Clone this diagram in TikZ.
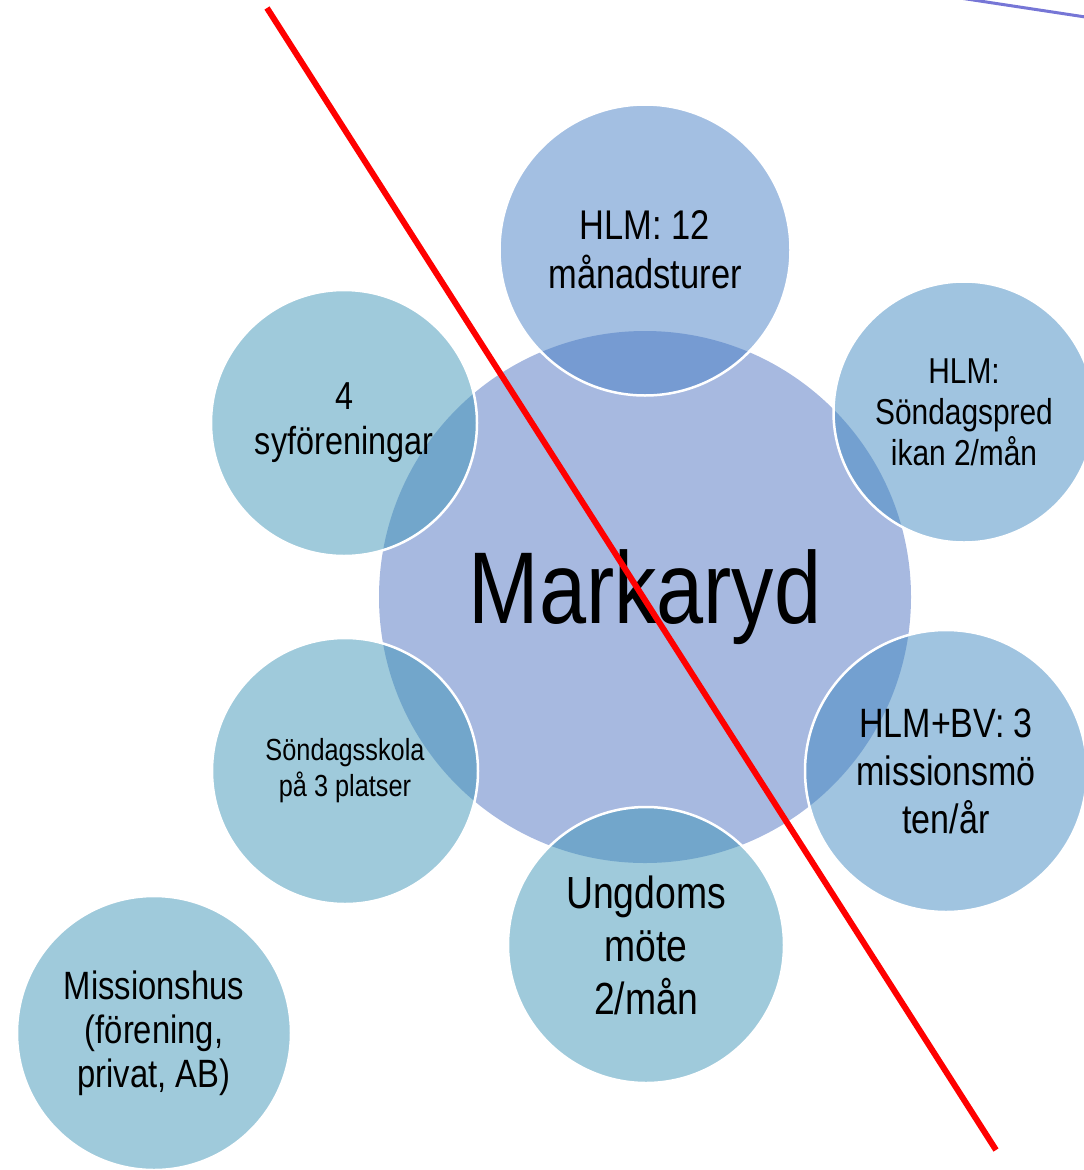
\documentclass[tikz,border=0pt]{standalone}
\usepackage{fontspec}
\setmainfont[FakeStretch=0.83]{Liberation Sans}
\definecolor{mainfill}{RGB}{167,185,224}
\definecolor{topblue}{RGB}{71,127,197}
\definecolor{sideblue}{RGB}{65,137,193}
\definecolor{tealblue}{RGB}{63,149,183}
\definecolor{crossred}{RGB}{255,0,0}
\definecolor{edgeblue}{RGB}{118,118,214}

\begin{document}
\begin{tikzpicture}[x=1pt, y=-1pt,
    bubble/.style={circle, inner sep=0pt, draw=white, line width=2.5pt,
      fill opacity=0.5, text opacity=1, align=center},
    fs/.style 2 args={font=\fontsize{#1}{#2}\selectfont}]
            \useasboundingbox (0,0) rectangle (1084,1170);
            \clip (0,0) rectangle (1084,1170);

            \node[circle, inner sep=0pt, fill=mainfill, minimum size=532pt, fs={102}{110}] (mark) at (645,597) {Markaryd};

            \node[bubble, fill=topblue, minimum size=291pt, fs={41.5}{49}] (tour) at (645,250) {HLM: 12\\månadsturer};
            \node[bubble, fill=sideblue, minimum size=261pt, fs={36}{41}] (sermon) at (964,412) {HLM:\\Söndagspred\\ikan 2/mån};
            \node[bubble, fill=sideblue, minimum size=282pt, fs={41}{48}] (mission) at (946,771) {HLM+BV: 3\\missionsmö\\ten/år};
            \node[bubble, fill=tealblue, minimum size=276pt, fs={45}{53}] (youth) at (646,945) {Ungdoms\\möte\\2/mån};
            \node[bubble, fill=tealblue, minimum size=266pt, fs={30.5}{36}] (school) at (345,771) {Söndagsskola\\på 3 platser};
            \node[bubble, fill=tealblue, minimum size=266pt, fs={39}{45}] (sewing) at (344,423) {4\\syföreningar};
            \node[bubble, fill=tealblue, minimum size=274pt, fs={39.5}{44}] (house) at (154,1033) {Missionshus\\(förening,\\privat, AB)};

            \coordinate (crossA) at (267,8);
            \coordinate (crossB) at (996,1150);
            \draw[crossred, line width=6pt] (crossA) -- (crossB);

            \coordinate (edgeA) at (960,-2);
            \coordinate (edgeB) at (1092,18);
            \draw[edgeblue, line width=3pt] (edgeA) -- (edgeB);
        \end{tikzpicture}
\end{document}
